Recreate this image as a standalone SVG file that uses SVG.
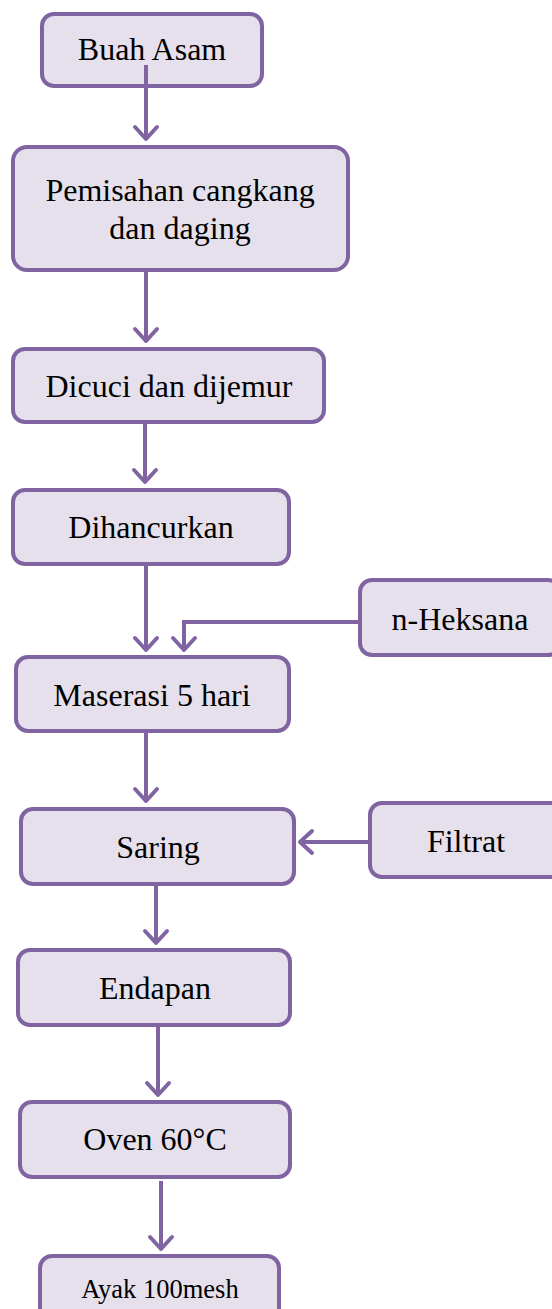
<svg xmlns="http://www.w3.org/2000/svg" width="552" height="1309" viewBox="0 0 552 1309">
<defs>
<style>
.box{fill:#E5E0EC;stroke:#8064A2;stroke-width:4}
.t{font-family:'Liberation Serif',serif;font-size:32px;fill:#000;text-anchor:middle}
.c{fill:none;stroke:#8064A2;stroke-width:4;marker-end:url(#arr)}
</style>
<marker id="arr" markerUnits="userSpaceOnUse" viewBox="-16 -14 20 28" markerWidth="20" markerHeight="28" refX="0" refY="0" orient="auto">
<path d="M-12,-11 L0,0 L-12,11" fill="none" stroke="#8064A2" stroke-width="4" stroke-linecap="round" stroke-linejoin="round"/>
</marker>
</defs>
<rect width="552" height="1309" fill="#fff"/>
<g id="n1"><rect class="box" x="42" y="14" width="220" height="72" rx="12"/><text class="t" x="152" y="60">Buah Asam</text></g>
<g id="n2"><rect class="box" x="13" y="147" width="335" height="123" rx="14"/><text class="t" x="180" y="201">Pemisahan cangkang</text><text class="t" x="180" y="239">dan daging</text></g>
<g id="n3"><rect class="box" x="13" y="349" width="311" height="73" rx="12"/><text class="t" x="169" y="397">Dicuci dan dijemur</text></g>
<g id="n4"><rect class="box" x="13" y="490" width="276" height="74" rx="12"/><text class="t" x="151" y="538">Dihancurkan</text></g>
<g id="n5"><rect class="box" x="360" y="580" width="200" height="75" rx="12"/><text class="t" x="460" y="630">n-Heksana</text></g>
<g id="n6"><rect class="box" x="16" y="657" width="273" height="74" rx="12"/><text class="t" x="152" y="706">Maserasi 5 hari</text></g>
<g id="n7"><rect class="box" x="21" y="809" width="273" height="75" rx="12"/><text class="t" x="158" y="858">Saring</text></g>
<g id="n8"><rect class="box" x="370" y="803" width="200" height="74" rx="12"/><text class="t" x="466" y="852">Filtrat</text></g>
<g id="n9"><rect class="box" x="18" y="950" width="272" height="75" rx="12"/><text class="t" x="155" y="999">Endapan</text></g>
<g id="n10"><rect class="box" x="20" y="1102" width="270" height="75" rx="12"/><text class="t" x="155" y="1150">Oven 60°C</text></g>
<g id="n11"><rect class="box" x="40" y="1256" width="239" height="70" rx="12"/><text class="t" x="160" y="1298" style="font-size:26.5px">Ayak 100mesh</text></g>
<g id="connectors">
<path class="c" d="M146 65 V139"/>
<path class="c" d="M146 272 V341"/>
<path class="c" d="M145 424 V482"/>
<path class="c" d="M146 566 V650"/>
<path class="c" d="M358 622 H184 V650"/>
<path class="c" d="M146 733 V801"/>
<path class="c" d="M368 842 H300"/>
<path class="c" d="M156 886 V943"/>
<path class="c" d="M158 1027 V1095"/>
<path class="c" d="M161 1181 V1249"/>
</g>
</svg>
